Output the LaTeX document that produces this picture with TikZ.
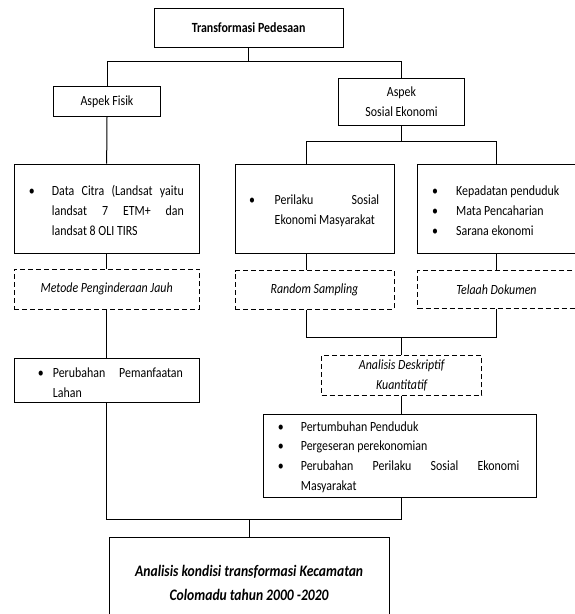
\documentclass[tikz,border=0pt]{standalone}
\usepackage{fontspec}
\setmainfont{Carlito}[FakeStretch=0.85]
\newcommand\bul[1]{\llap{\makebox[0pt][c]{•}\hspace{#1pt}}}
\begin{document}
\begin{tikzpicture}[x=1pt,y=-1pt,
  every node/.style={inner sep=0pt, font=\fontsize{14}{19.8}\selectfont, text=black},
  solidbox/.style={draw, line width=1pt},
  dashbox/.style={draw, line width=1pt, dash pattern=on 5pt off 3pt},
  conn/.style={line width=1pt},
  txt/.style={anchor=west, align=left}]
\useasboundingbox (0,0) rectangle (574,614);
% boxes
\node[solidbox, minimum width=189.3pt, minimum height=39pt, font=\fontsize{14}{19.8}\selectfont\bfseries] (title) at (248.65,27.8) {Transformasi Pedesaan};
\node[solidbox, minimum width=107.4pt, minimum height=30.7pt] (fisik) at (107,101.35) {Aspek Fisik};
\node[solidbox, minimum width=126.4pt, minimum height=46.7pt, align=center, font=\fontsize{14}{19.4}\selectfont] (sosial) at (401.5,101.65) {Aspek\\Sosial Ekonomi};
\node[solidbox, minimum width=185.3pt, minimum height=89pt] (citra) at (106.65,208.5) {};
\node[solidbox, minimum width=159pt, minimum height=89pt] (perilaku) at (314.5,208.5) {};
\node[solidbox, minimum width=158pt, minimum height=89pt] (kep) at (496.5,208.5) {};
\node[dashbox, minimum width=185.3pt, minimum height=40pt, font=\fontsize{14}{19.8}\selectfont\itshape] (metode) at (106.65,289) {Metode Penginderaan Jauh};
\node[dashbox, minimum width=159pt, minimum height=38.5pt, font=\fontsize{14}{19.8}\selectfont\itshape] (random) at (314.5,289.75) {Random Sampling};
\node[dashbox, minimum width=158pt, minimum height=38.5pt, font=\fontsize{14}{19.8}\selectfont\itshape] (telaah) at (496.5,289.5) {Telaah Dokumen};
\node[dashbox, minimum width=160pt, minimum height=39.5pt, align=center, font=\fontsize{14}{20.6}\selectfont\itshape] (analisis) at (401.7,375.5) {Analisis Deskriptif\\Kuantitatif};
\node[solidbox, minimum width=184.8pt, minimum height=44.4pt] (perubahan) at (106.9,380.5) {};
\node[solidbox, minimum width=272.7pt, minimum height=83pt] (pert) at (399.65,455.5) {};
\node[solidbox, minimum width=279.7pt, minimum height=91.7pt, align=center, font=\fontsize{16}{24}\selectfont\bfseries\itshape] (final) at (249.15,583) {Analisis kondisi transformasi Kecamatan\\Colomadu tahun 2000 -2020};
% bullet texts
\node[txt] (citratxt) at (51.7,210.5) {\bul{20}\makebox[132pt][s]{Data Citra (Landsat yaitu}\\\makebox[132pt][s]{landsat 7 ETM+ dan}\\landsat 8 OLI TIRS};
\node[txt] (perilakutxt) at (274.5,210.5) {\bul{22.5}\makebox[104.5pt][s]{Perilaku Sosial}\\Ekonomi Masyarakat};
\node[txt] (keptxt) at (456,210.5) {\bul{21}Kepadatan penduduk\\\bul{21}Mata Pencaharian\\\bul{21}Sarana ekonomi};
\node[txt] (perubahantxt) at (52.7,382.7) {\bul{12}\makebox[130pt][s]{Perubahan Pemanfaatan}\\Lahan};
\node[txt] (perttxt) at (300.7,457) {\bul{20}Pertumbuhan Penduduk\\\bul{20}Pergeseran perekonomian\\\bul{20}\makebox[218.6pt][s]{Perubahan Perilaku Sosial Ekonomi}\\Masyarakat};
% connectors
\coordinate (busA) at (0,61.7);
\coordinate (busB) at (0,141.7);
\coordinate (busC) at (0,337.3);
\coordinate (busD) at (0,519.3);
\coordinate (pT) at ([xshift=-8.2pt]perilaku.north);
\coordinate (pB) at ([xshift=-8.2pt]perilaku.south);
\coordinate (rT) at ([xshift=-8.2pt]random.north);
\coordinate (rB) at ([xshift=-8.2pt]random.south);
\draw[conn] (title.south) -- (title.south |- busA);
\draw[conn] (fisik.north) -- (fisik.north |- busA) -- (sosial.north |- busA) -- (sosial.north);
\draw[conn] (fisik.south) -- (citra.north);
\draw[conn] (sosial.south) -- (sosial.south |- busB);
\draw[conn] (pT) -- (pT |- busB) -- (kep.north |- busB) -- (kep.north);
\draw[conn] (citra.south) -- (metode.north);
\draw[conn] (pB) -- (rT);
\draw[conn] (kep.south) -- (telaah.north);
\draw[conn] (metode.south) -- (metode.south |- perubahan.north);
\draw[conn] (rB) -- (rB |- busC) -- (telaah.south |- busC) -- (telaah.south);
\draw[conn] (analisis.north) -- (analisis.north |- busC);
\draw[conn] (analisis.south) -- (analisis.south |- pert.north);
\draw[conn] (perubahan.south) -- (perubahan.south |- busD) -- (analisis.south |- busD) -- (analisis.south |- pert.south);
\draw[conn] (final.north) -- (final.north |- busD);
\end{tikzpicture}
\end{document}
